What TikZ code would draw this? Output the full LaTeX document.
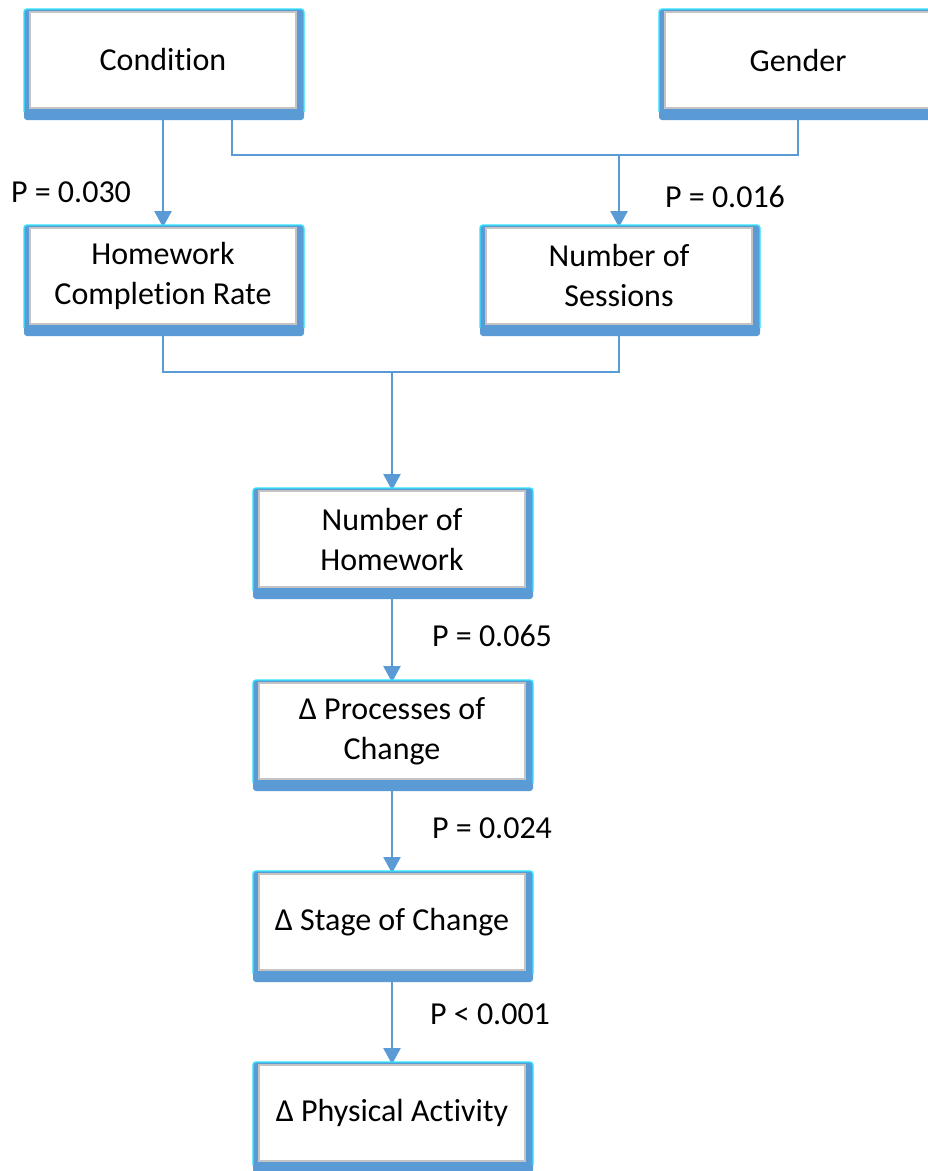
\documentclass[tikz,border=0pt]{standalone}
\usepackage{fontspec}
\setmainfont{Carlito}[Ligatures=NoCommon]
\usetikzlibrary{arrows.meta}
\pgfdeclarelayer{canvas}
\pgfdeclarelayer{background}
\pgfsetlayers{canvas,background,main}
\definecolor{frameblue}{HTML}{5B9BD5}
\definecolor{framecyan}{HTML}{2EE6FF}
\definecolor{innergray}{HTML}{C4C4C4}
\tikzset{
  stepbox/.style={draw=innergray, line width=1.6pt, fill=white,
    minimum width=266pt, minimum height=96pt, inner sep=0pt,
    align=center, font=\fontsize{32}{40}\selectfont},
  conn/.style={draw=frameblue, line width=2pt},
  arr/.style={conn, -{Triangle[width=17pt,length=16pt]}},
  plabel/.style={font=\fontsize{32}{40}\selectfont, inner sep=0pt}
}
% framed box: blue frame with a heavier bottom edge, cyan rim, white face
\newcommand\framedbox[4]{%
  \fill[frameblue, rounded corners=3pt] (#2-139,#3-51) rectangle (#2+141,#3+60);
  \draw[framecyan, line width=1.4pt, rounded corners=3pt]
    (#2-139,#3+52) -- (#2-139,#3-51) -- (#2+141,#3-51) -- (#2+141,#3+52);
  \node[stepbox] (#1) at (#2,#3) {#4};
}
\begin{document}
\begin{tikzpicture}[x=1pt,y=-1pt]
\useasboundingbox (0,0) rectangle (928,1171);
\clip (0,0) rectangle (928,1171);
\begin{pgfonlayer}{canvas}
  \fill[white] (0,0) rectangle (928,1171);
\end{pgfonlayer}

\framedbox{cond}{163}{60}{Condition}
\framedbox{gender}{798}{60}{Gender}
\framedbox{hcr}{163}{276}{Homework\\Completion Rate}
\framedbox{sess}{619}{276}{Number of\\Sessions}
\framedbox{nhw}{392}{539}{Number of\\Homework}
\framedbox{proc}{392}{731}{Δ Processes of\\Change}
\framedbox{stage}{392}{922}{Δ Stage of Change}
\framedbox{phys}{392}{1113}{Δ Physical Activity}

\coordinate (j1) at (619,154);
\coordinate (j2) at (392,371);

\begin{pgfonlayer}{background}
  \draw[arr] (cond.south) -- (hcr.north);
  \draw[conn] ([xshift=69pt]cond.south) -- ++(0,46) -| (gender.south);
  \draw[arr] (j1) -- (sess.north);
  \draw[conn] (hcr.south) -- ++(0,47) -| (sess.south);
  \draw[arr] (j2) -- (nhw.north);
  \draw[arr] (nhw.south) -- (proc.north);
  \draw[arr] (proc.south) -- (stage.north);
  \draw[arr] (stage.south) -- (phys.north);
\end{pgfonlayer}

\node[plabel] (p1) at (71,192) {P = 0.030};
\node[plabel] (p2) at (725,197) {P = 0.016};
\node[plabel] (p3) at (492,636) {P = 0.065};
\node[plabel] (p4) at (492,828) {P = 0.024};
\node[plabel] (p5) at (490,1014) {P < 0.001};
\end{tikzpicture}
\end{document}
